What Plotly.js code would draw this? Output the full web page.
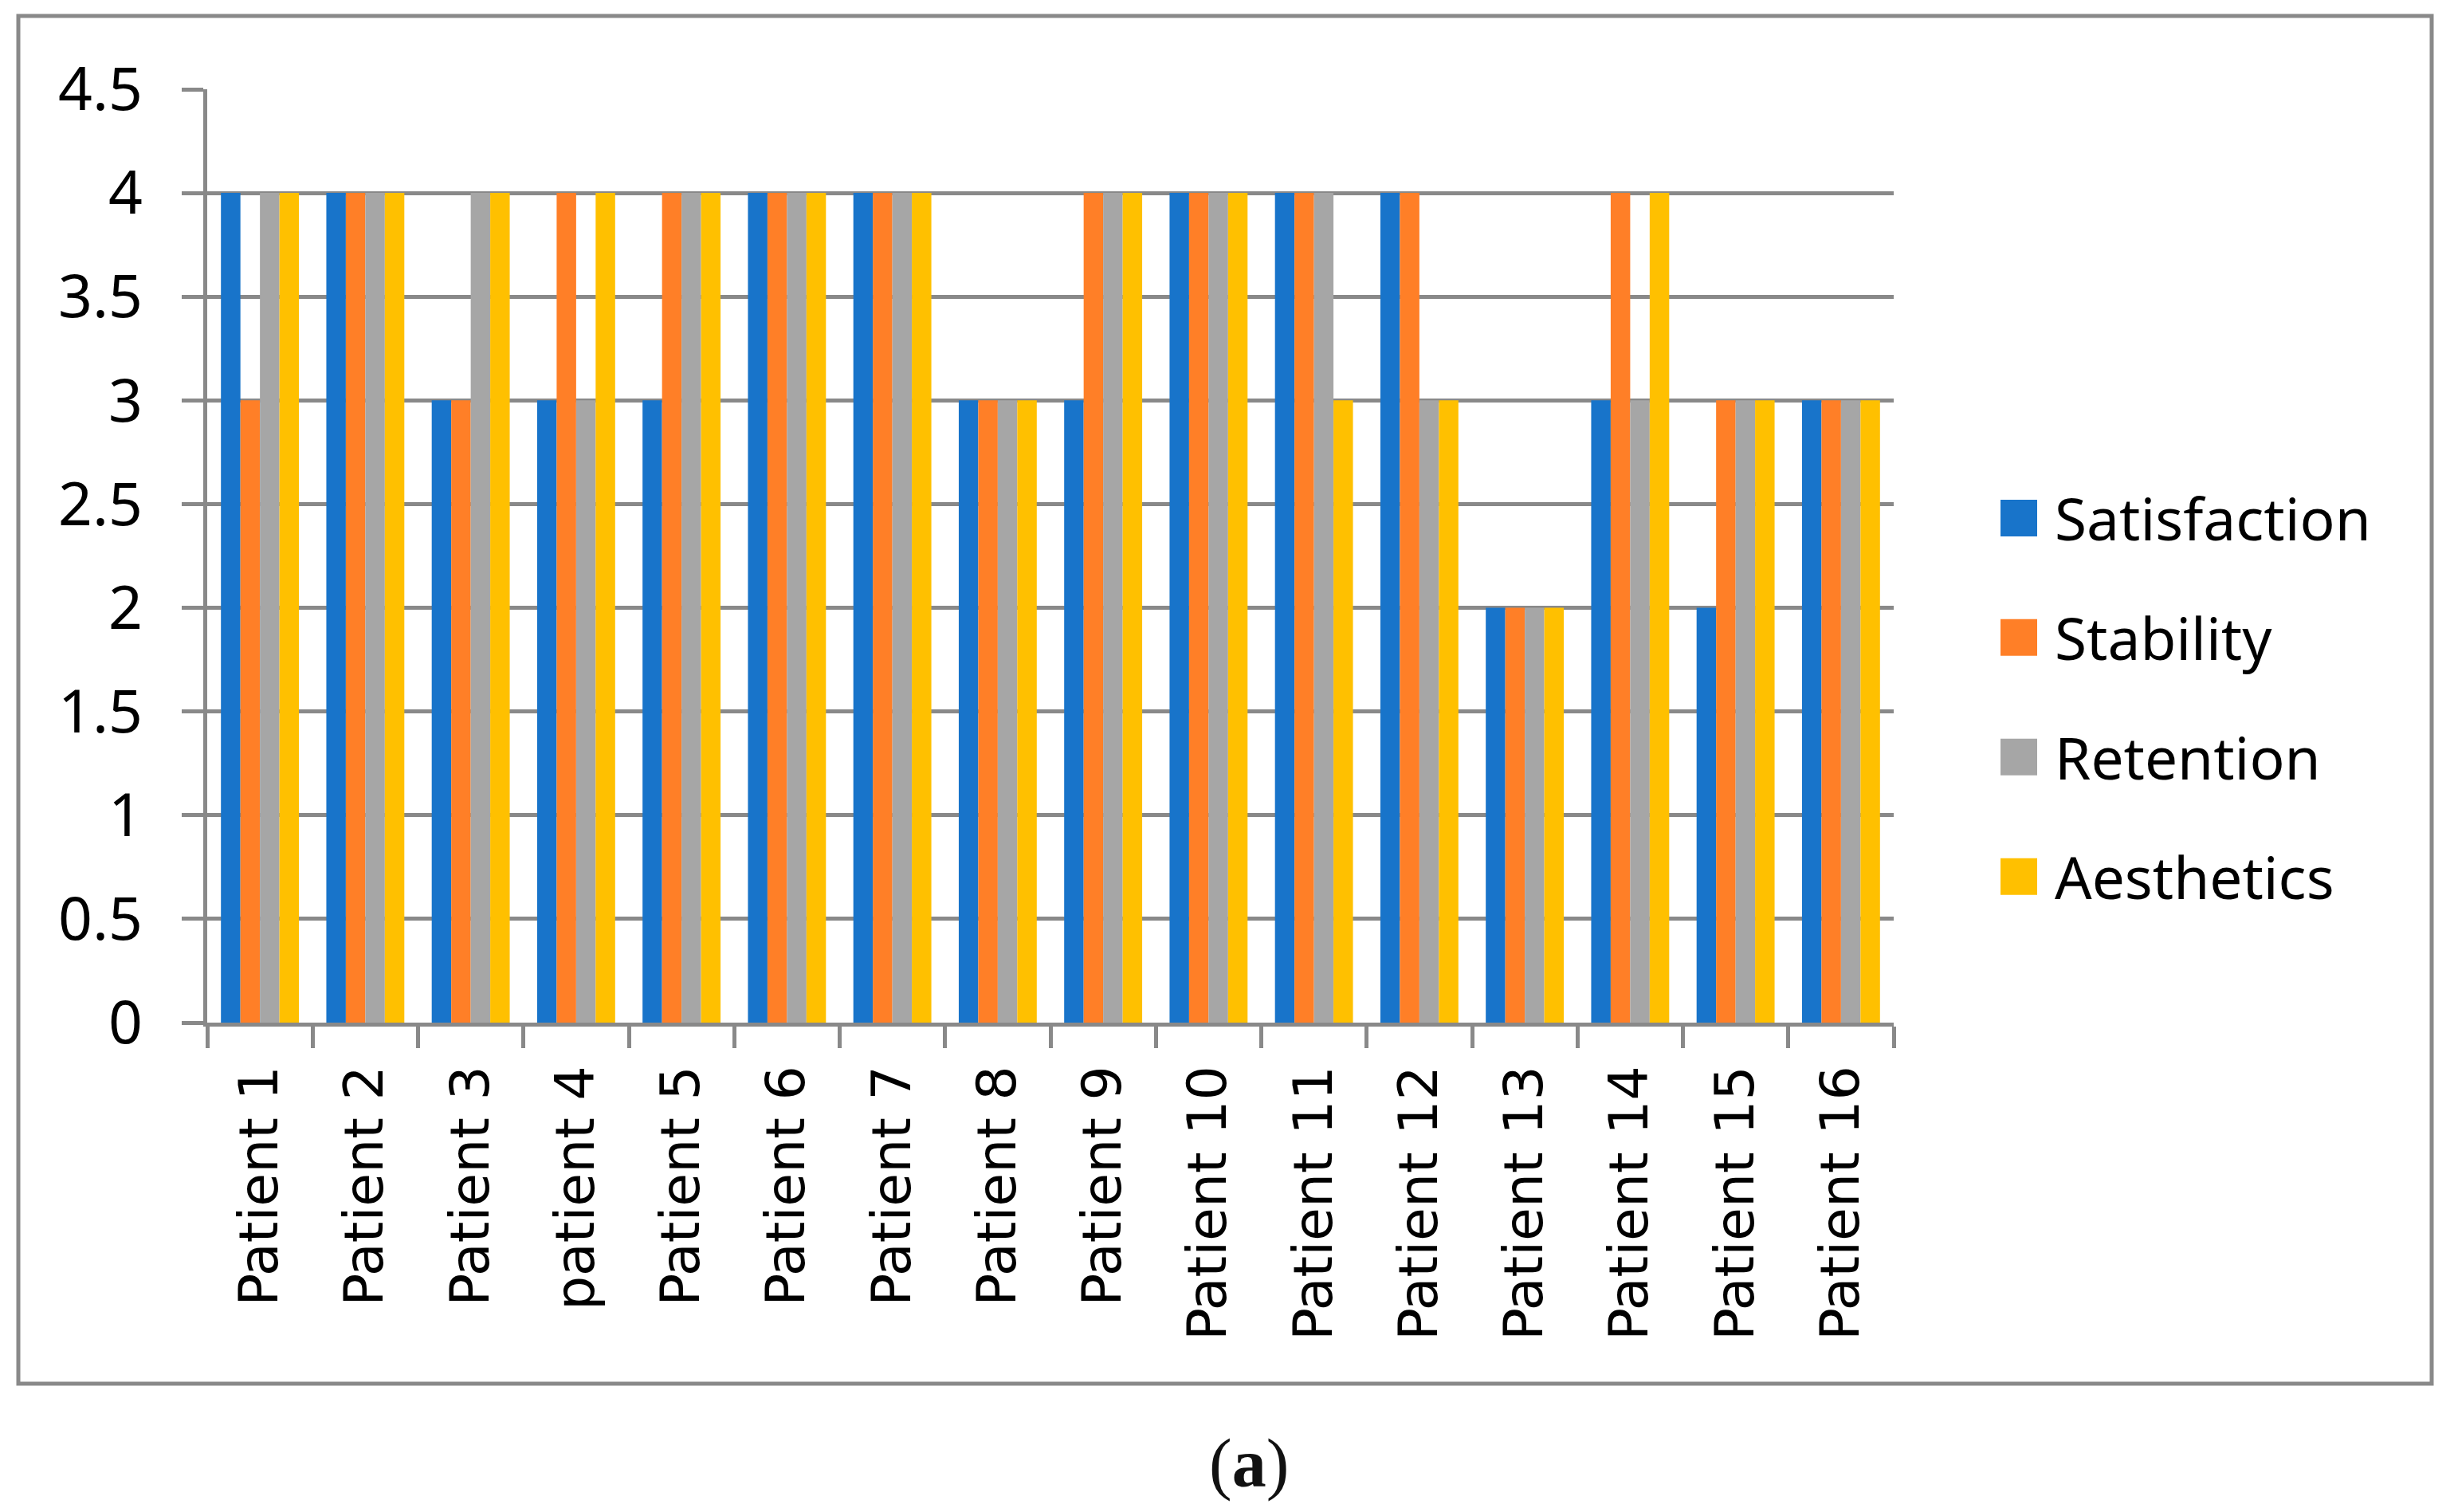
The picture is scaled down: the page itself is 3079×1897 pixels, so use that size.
<!DOCTYPE html>
<html>
<head>
<meta charset="utf-8">
<script src="https://cdn.plot.ly/plotly-3.0.1.min.js"></script>
<style>
html,body{margin:0;padding:0;background:#fff;}
#chart{width:3079px;height:1897px;}
</style>
</head>
<body>
<div id="chart"></div>
<script>
// ---- data ----
const patients = ["Patient 1","Patient 2","Patient 3","patient 4","Patient 5","Patient 6","Patient 7","Patient 8",
                  "Patient 9","Patient 10","Patient 11","Patient 12","Patient 13","Patient 14","Patient 15","Patient 16"];
const satisfaction = [4,4,3,3,3,4,4,3,3,4,4,4,2,3,2,3];
const stability    = [3,4,3,4,4,4,4,3,4,4,4,4,2,4,3,3];
const retention    = [4,4,4,3,4,4,4,3,4,4,4,3,2,3,3,3];
const aesthetics   = [4,4,4,4,4,4,4,3,4,4,3,3,2,4,3,3];
const seriesNames  = ["Satisfaction","Stability","Retention","Aesthetics"];
const seriesColors = ["#1874CA","#FF7F27","#A6A6A6","#FFC000"];
const yTickVals    = [0,0.5,1,1.5,2,2.5,3,3.5,4,4.5];
const yTickText    = ["0","0.5","1","1.5","2","2.5","3","3.5","4","4.5"];

const seriesValues = [satisfaction, stability, retention, aesthetics];
const traces = seriesValues.map((vals, i) => ({
  type: "bar",
  name: seriesNames[i],
  x: patients,
  y: vals,
  legendgroup: "g" + i,
  marker: {color: seriesColors[i], line: {width: 0}},
  hoverinfo: "x+y+name"
}));

const gridCol = "#898989";
const L = 260, R = 2376, T = 112, B = 1283;
const pw = R - L, ph = B - T;
const px = v => (v - L) / pw;
const py = v => (B - v) / ph;

const layout = {
  width: 3079, height: 1897,
  margin: {l: L, r: 3079 - R, t: T, b: 1897 - B},
  paper_bgcolor: "#ffffff",
  plot_bgcolor: "#ffffff",
  barmode: "group",
  bargap: 0.26,
  bargroupgap: 0,
  showlegend: true,
  legend: {
    x: px(2488), xanchor: "left",
    y: py(875), yanchor: "middle",
    font: {family: "Noto Sans", size: 73, color: "#000"},
    itemwidth: 80,
    tracegroupgap: 52,
    traceorder: "grouped",
    bgcolor: "rgba(0,0,0,0)"
  },
  xaxis: {
    type: "category",
    tickson: "boundaries",
    ticks: "outside",
    ticklen: 27,
    tickwidth: 5,
    tickcolor: gridCol,
    showline: true,
    linecolor: gridCol,
    linewidth: 5,
    showgrid: false,
    tickangle: -90,
    ticklabelstandoff: 22,
    tickfont: {family: "DejaVu Sans", size: 68, color: "#000"},
    fixedrange: true
  },
  yaxis: {
    range: [0, 4.5],
    tickvals: yTickVals,
    ticktext: yTickText,
    ticks: "outside",
    ticklen: 27,
    tickwidth: 5,
    tickcolor: gridCol,
    showline: true,
    linecolor: gridCol,
    linewidth: 5,
    showgrid: true,
    gridcolor: gridCol,
    gridwidth: 5,
    zeroline: false,
    ticklabelstandoff: 34,
    tickfont: {family: "Noto Sans", size: 75, color: "#000"},
    fixedrange: true
  },
  shapes: [{
    type: "rect", xref: "paper", yref: "paper",
    x0: px(23), x1: px(3051), y0: py(1736), y1: py(20),
    line: {color: gridCol, width: 5},
    fillcolor: "rgba(0,0,0,0)",
    layer: "below"
  }],
  annotations: [{
    xref: "paper", yref: "paper",
    x: px(1567), y: py(1836),
    xanchor: "center", yanchor: "middle",
    showarrow: false,
    text: "(<b>a</b>)",
    font: {family: "Liberation Serif", size: 86, color: "#111"}
  }]
};

Plotly.newPlot("chart", traces, layout, {displayModeBar: false, staticPlot: true}).then(gd => {
  gd.querySelectorAll(".legend .legendpoints path").forEach(p => {
    p.setAttribute("d", "M23,23H-23V-23H23Z");
  });
});
</script>
</body>
</html>
